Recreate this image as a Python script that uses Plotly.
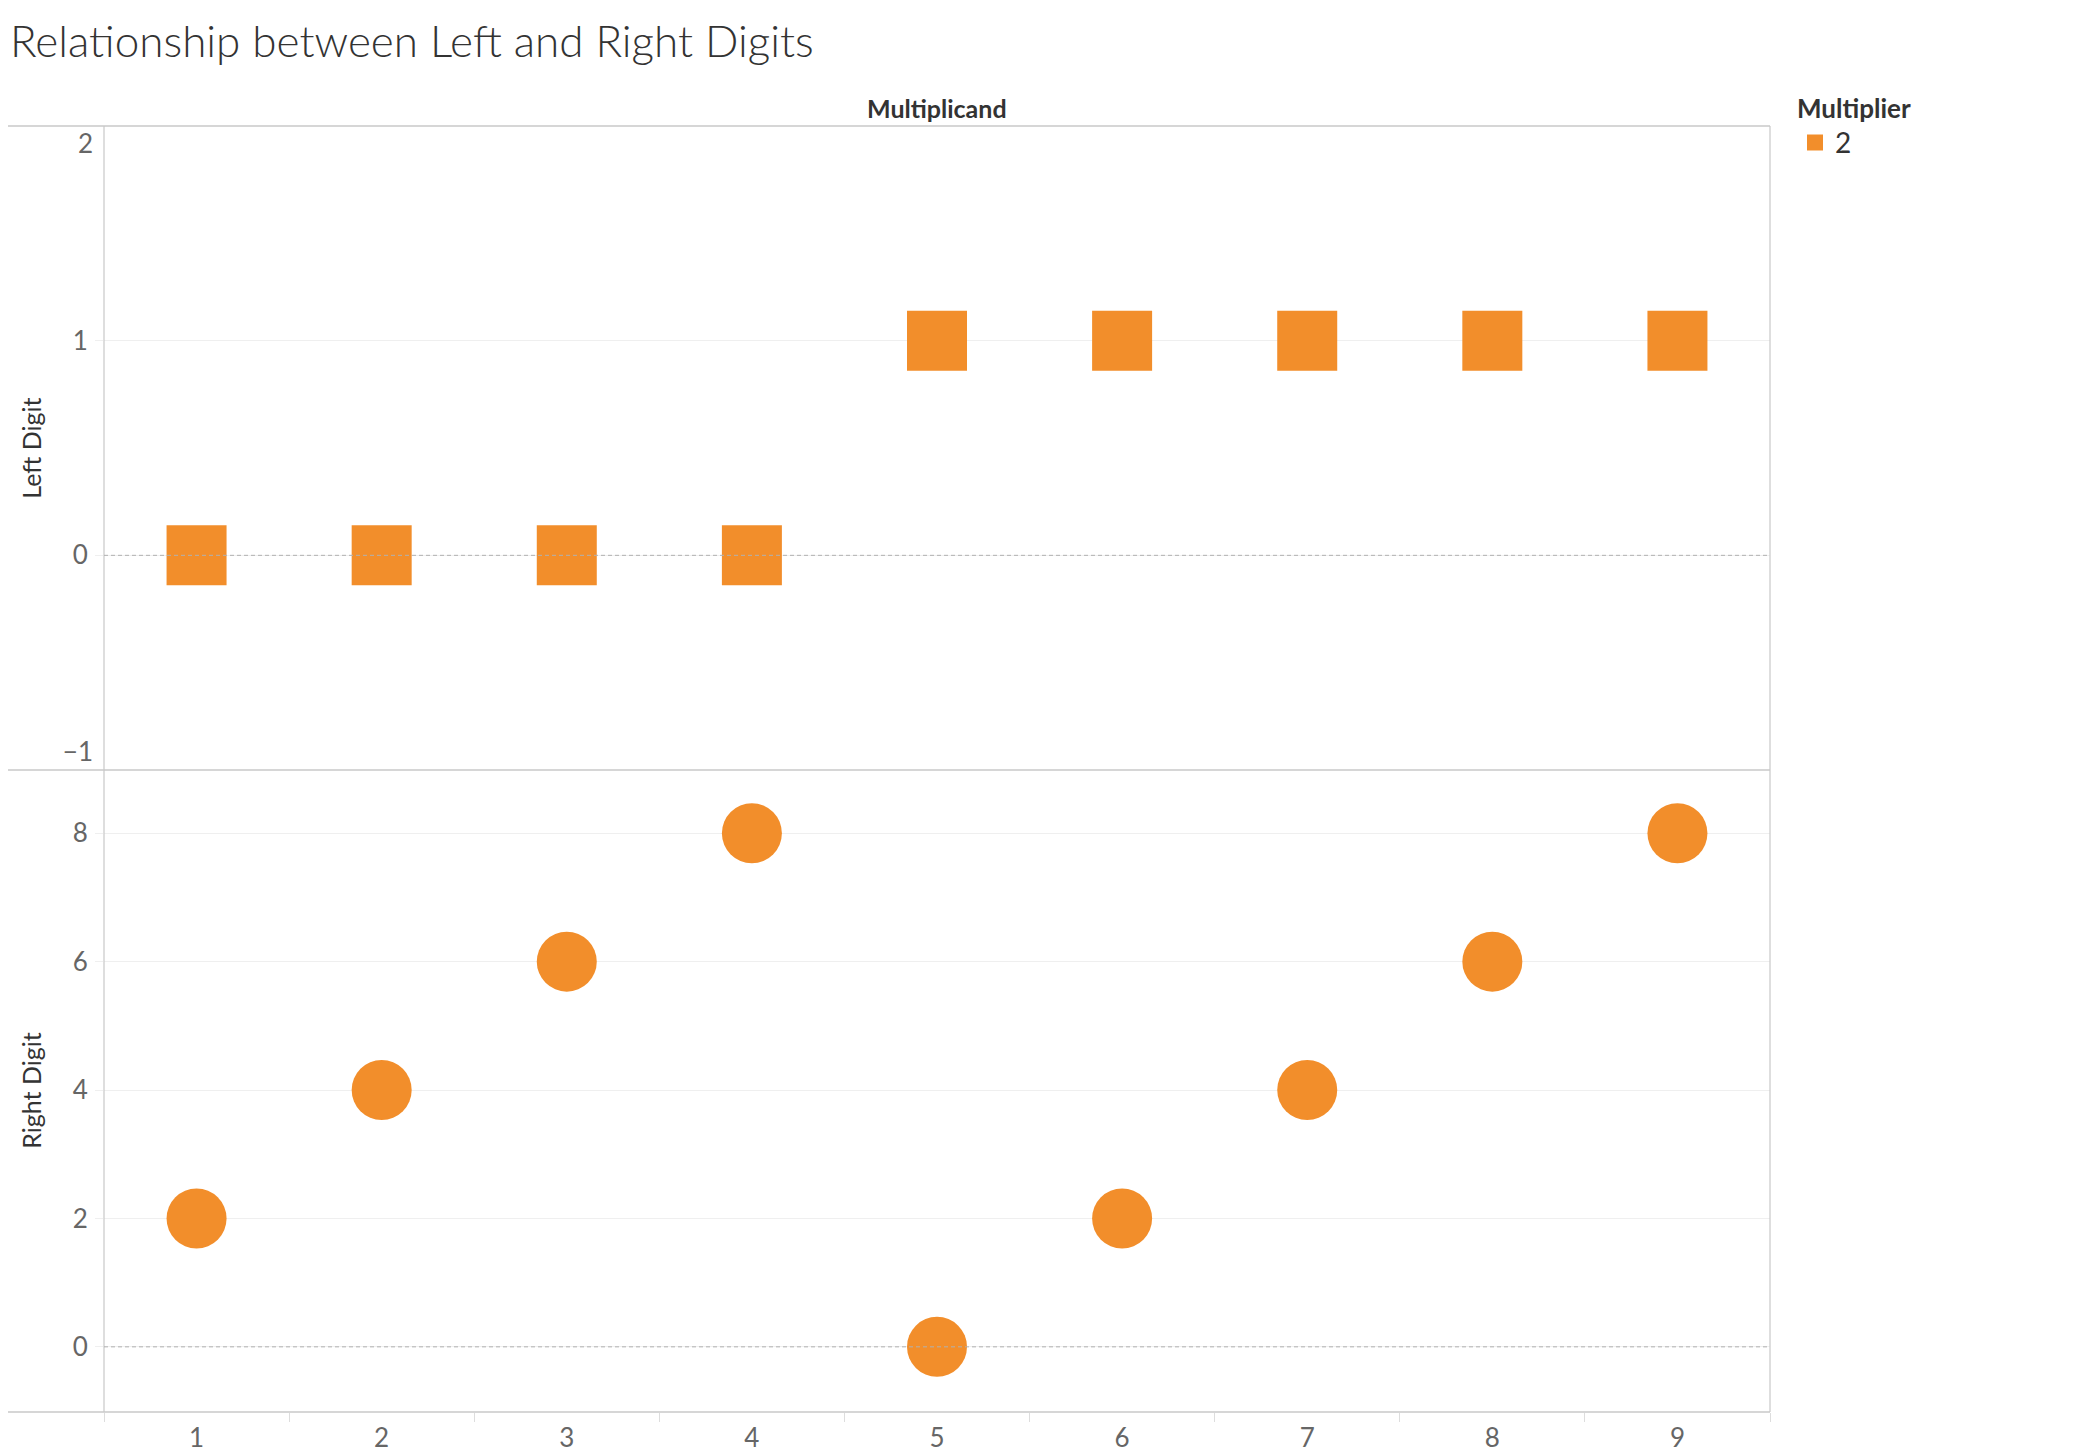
import plotly.graph_objects as go

multiplicand = [1, 2, 3, 4, 5, 6, 7, 8, 9]
left_digit = [0, 0, 0, 0, 1, 1, 1, 1, 1]
right_digit = [2, 4, 6, 8, 0, 2, 4, 6, 8]
multiplier_name = "2"

orange = "#F28E2B"
border = "#c8c8c8"
grid = "#efefef"
tick_font = dict(family="Lato", size=26, color="#666666")

# page has an 8px body margin, so everything is laid out 8px up/left
W, H = 2058, 1448
L, T = 96.3, 118
R = W - 1762
B = H - 1404
pw = W - L - R
ph = H - T - B
split = (1404 - 762) / ph

fig = go.Figure()

# top pane: left digit (squares)
fig.add_trace(go.Scatter(
    x=multiplicand, y=left_digit, mode="markers", name=multiplier_name,
    xaxis="x2", yaxis="y2",
    marker=dict(symbol="square", size=60, color=orange, line=dict(width=0)),
    showlegend=True, hoverinfo="x+y"))

# bottom pane: right digit (circles)
fig.add_trace(go.Scatter(
    x=multiplicand, y=right_digit, mode="markers", name=multiplier_name,
    xaxis="x", yaxis="y",
    marker=dict(symbol="circle", size=60, color=orange, line=dict(width=0)),
    showlegend=False, hoverinfo="x+y"))

# empty traces so the two overlay axes for the end labels get drawn
fig.add_trace(go.Scatter(x=[None], y=[None], xaxis="x2", yaxis="y3",
                         showlegend=False, hoverinfo="skip"))
fig.add_trace(go.Scatter(x=[None], y=[None], xaxis="x2", yaxis="y4",
                         showlegend=False, hoverinfo="skip"))

shapes = []
# pane borders, the horizontal ones run out to the left edge like the row header
for yy in [0, split, 1]:
    shapes.append(dict(type="line", xref="paper", yref="paper",
                       x0=-(L + 8) / pw, x1=1, y0=yy, y1=yy,
                       line=dict(color=border, width=1.5)))
for xx in [0, 1]:
    shapes.append(dict(type="line", xref="paper", yref="paper",
                       x0=xx, x1=xx, y0=0, y1=1,
                       line=dict(color=border, width=1.2)))
# dotted zero lines
shapes.append(dict(type="line", xref="x2 domain", yref="y2", x0=0, x1=1, y0=0, y1=0,
                   line=dict(color="#b0b0b0", width=1, dash="4px,3px")))
shapes.append(dict(type="line", xref="x domain", yref="y", x0=0, x1=1, y0=0, y1=0,
                   line=dict(color="#b0b0b0", width=1, dash="4px,3px")))

yaxis_common = dict(showline=False, zeroline=False, gridcolor=grid, gridwidth=1,
                    ticks="outside", ticklen=8, tickcolor=grid, automargin=False,
                    tickfont=tick_font, ticklabelstandoff=2, fixedrange=True)
overlay_common = dict(overlaying="y2", anchor="x2", side="left", range=[-1, 2],
                      showgrid=False, zeroline=False, showline=False, ticks="",
                      automargin=False, tickfont=tick_font, ticklabelstandoff=10,
                      fixedrange=True)

fig.update_layout(
    width=W, height=H,
    margin=dict(l=L, r=R, t=T, b=B, autoexpand=False),
    paper_bgcolor="white", plot_bgcolor="white",
    title=dict(text="Relationship between Left and Right Digits",
               x=2 / W, xanchor="left", xref="container",
               y=1 - 34 / H, yanchor="middle", yref="container",
               font=dict(family="Lato", size=44, weight=300, color="#333333")),
    xaxis=dict(domain=[0, 1], range=[0.5, 9.5], anchor="y",
               tickvals=multiplicand, ticks="", showgrid=False, zeroline=False,
               showline=False, tickfont=tick_font, ticklabelstandoff=8,
               minor=dict(tick0=0.5, dtick=1, ticks="outside", ticklen=9,
                          tickcolor="#dddddd", showgrid=False),
               automargin=False, fixedrange=True),
    xaxis2=dict(domain=[0, 1], range=[0.5, 9.5], anchor="y2", matches="x",
                showticklabels=False, ticks="", showgrid=False, zeroline=False,
                showline=False, automargin=False, fixedrange=True),
    yaxis=dict(domain=[0, split], range=[-1.015, 8.985], anchor="x",
               tickvals=[0, 2, 4, 6, 8], **yaxis_common),
    yaxis2=dict(domain=[split, 1], range=[-1, 2], anchor="x2",
                tickvals=[0, 1], **yaxis_common),
    # end labels of the top pane sit inside the pane, as in the original
    yaxis3=dict(tickvals=[2], ticklabelposition="outside bottom", **overlay_common),
    yaxis4=dict(tickvals=[-1], ticklabelposition="outside top", **overlay_common),
    shapes=shapes,
    annotations=[
        dict(text="Multiplicand", xref="paper", yref="paper", x=0.5, y=1 + 18 / ph,
             xanchor="center", yanchor="middle", showarrow=False,
             font=dict(family="Lato", size=25, weight=700, color="#333333")),
        dict(text="Left Digit", xref="paper", yref="paper", x=-(L - 23) / pw,
             y=(split + 1) / 2, textangle=-90, xanchor="center", yanchor="middle",
             showarrow=False, font=dict(family="Lato", size=25, color="#333333")),
        dict(text="Right Digit", xref="paper", yref="paper", x=-(L - 23) / pw,
             y=split / 2, textangle=-90, xanchor="center", yanchor="middle",
             showarrow=False, font=dict(family="Lato", size=25, color="#333333")),
    ],
    legend=dict(title=dict(text="<b>Multiplier</b>",
                           font=dict(family="Lato", size=26, color="#333333")),
                x=(1787 - L) / pw, xanchor="left",
                y=1 + 42 / ph, yanchor="top",
                font=dict(family="Lato", size=28, color="#333333"),
                bgcolor="rgba(0,0,0,0)", itemsizing="trace"),
    hovermode="closest",
)

fig.write_html("out.html")
